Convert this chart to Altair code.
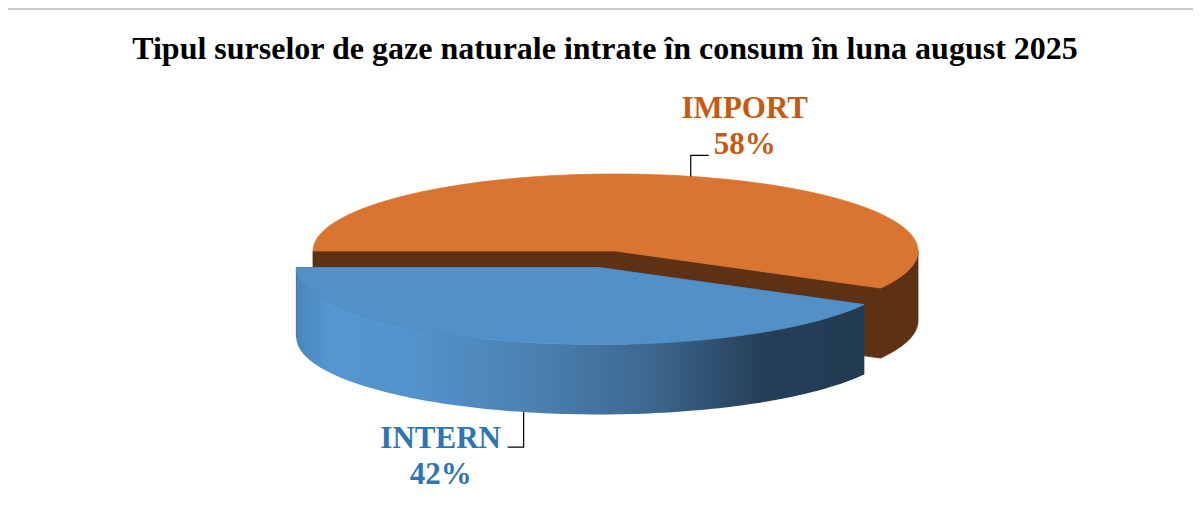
import json
import altair as alt
import pandas as pd

# ---------------- data ----------------
CATEGORIES = ["IMPORT", "INTERN"]
VALUES = [58, 42]
TITLE = "Tipul surselor de gaze naturale intrate în consum în luna august 2025"

# ---------------- style / layout ----------------
TOP_COLORS = {"IMPORT": "#D97530", "INTERN": "#5290C8"}
SIDE_COLORS = {"IMPORT": "#5E3114", "INTERN": "#2B4A68"}
LABEL_COLORS = {"IMPORT": "#C55A11", "INTERN": "#2E75B6"}
EXPLODED = {"INTERN": 0.221}
WALL_GRADIENT = {
    "INTERN": [
        ("#4A86BE", 0.0), ("#5597D0", 0.06), ("#5393CC", 0.2),
        ("#4B81B1", 0.42), ("#3D6890", 0.62), ("#263F58", 0.82), ("#223A52", 1.0),
    ]
}
FONT = "Liberation Serif"

W, H = 1185, 516          # plot area (page offset 8px)
CX, CY = 615.5, 251.0     # centre of the pie's top face (page px)
RX, RY = 302.5, 77.0      # ellipse radii of the tilted pie
DEPTH = 70.0              # thickness of the pie
N = 120                   # arc resolution

df = pd.DataFrame({"label": CATEGORIES, "value": VALUES, "order": list(range(len(CATEGORIES)))})

XS = alt.Scale(domain=[8, 8 + W], nice=False, zero=False)
YS = alt.Scale(domain=[8, 8 + H], nice=False, zero=False, reverse=True)

explode_expr = " : ".join(
    [f"datum.label == {json.dumps(k)} ? {v}" for k, v in EXPLODED.items()] + ["0"]
)

RAD = "*PI/180"


def geom(lab):
    return (
        alt.Chart(df)
        .transform_joinaggregate(total="sum(value)")
        .transform_window(cum="sum(value)", sort=[alt.SortField("order")], frame=[None, 0])
        .transform_calculate(a0="270 + 360*(datum.cum - datum.value)/datum.total")
        .transform_calculate(a1="270 + 360*datum.cum/datum.total")
        .transform_calculate(mid="(datum.a0 + datum.a1)/2")
        .transform_calculate(ex=explode_expr)
        .transform_calculate(ccx=f"{CX} + datum.ex*{RX}*sin(datum.mid{RAD})")
        .transform_calculate(ccy=f"{CY} - datum.ex*{RY}*cos(datum.mid{RAD})")
        .transform_filter(alt.datum.label == lab)
    )


def xy(order_field):
    return dict(
        x=alt.X("x:Q", scale=XS, axis=None),
        y=alt.Y("y:Q", scale=YS, axis=None),
        order=alt.Order(f"{order_field}:Q"),
    )


layers = []

# border (left and top edges of the frame)
layers.append(
    alt.Chart(pd.DataFrame({"b": [0]})).mark_rule(color="#C8C8C8", strokeWidth=2)
    .encode(x=alt.value(-1), y=alt.value(0), y2=alt.value(H))
)
layers.append(
    alt.Chart(pd.DataFrame({"b": [0]})).mark_rule(color="#C8C8C8", strokeWidth=2)
    .encode(x=alt.value(-1), x2=alt.value(W), y=alt.value(1))
)

for lab in CATEGORIES:
    # radial cut faces
    faces = (
        geom(lab)
        .transform_calculate(f="sequence(0, 2)")
        .transform_flatten(["f"])
        .transform_calculate(k="sequence(0, 4)")
        .transform_flatten(["k"])
        .transform_calculate(ang="datum.f == 0 ? datum.a0 : datum.a1")
        .transform_calculate(
            ex_=f"datum.ccx + {RX}*sin(datum.ang{RAD})",
            ey_=f"datum.ccy - {RY}*cos(datum.ang{RAD})",
        )
        .transform_calculate(
            x="(datum.k == 1 || datum.k == 2) ? datum.ex_ : datum.ccx",
            y=f"((datum.k == 1 || datum.k == 2) ? datum.ey_ : datum.ccy) + (datum.k >= 2 ? {DEPTH} : 0)",
        )
        .mark_line(filled=True, interpolate="linear-closed", color=SIDE_COLORS[lab],
                   stroke=SIDE_COLORS[lab], strokeWidth=0.8)
        .encode(detail="f:N", **xy("k"))
    )
    layers.append(faces)

    # outer wall (front half only): top arc forward, bottom arc backward
    if lab in WALL_GRADIENT:
        wall_color = alt.Gradient(
            gradient="linear",
            stops=[alt.GradientStop(color=c, offset=o) for c, o in WALL_GRADIENT[lab]],
            x1=0, x2=1, y1=0, y2=0,
        )
        wall_mark = dict(color=wall_color)
    else:
        wall_mark = dict(color=SIDE_COLORS[lab], stroke=SIDE_COLORS[lab], strokeWidth=0.8)
    wall = (
        geom(lab)
        .transform_calculate(wlo="max(datum.a0, 450)")
        .transform_calculate(whi="min(datum.a1, 630)")
        .transform_filter("datum.whi > datum.wlo")
        .transform_calculate(t=f"sequence(0, {2 * N + 2})")
        .transform_flatten(["t"])
        .transform_calculate(
            s=f"datum.t <= {N} ? datum.t : {2 * N + 1} - datum.t",
            bottom=f"datum.t > {N}",
        )
        .transform_calculate(ang=f"datum.wlo + (datum.whi - datum.wlo)*datum.s/{N}")
        .transform_calculate(
            x=f"datum.ccx + {RX}*sin(datum.ang{RAD})",
            y=f"datum.ccy - {RY}*cos(datum.ang{RAD}) + (datum.bottom ? {DEPTH} : 0)",
        )
        .mark_line(filled=True, interpolate="linear-closed", **wall_mark)
        .encode(**xy("t"))
    )
    layers.append(wall)

    # top face
    top = (
        geom(lab)
        .transform_calculate(t=f"sequence(0, {N + 2})")
        .transform_flatten(["t"])
        .transform_calculate(ang=f"datum.a0 + (datum.a1 - datum.a0)*(datum.t - 1)/{N}")
        .transform_calculate(
            x=f"datum.t == 0 ? datum.ccx : datum.ccx + {RX}*sin(datum.ang{RAD})",
            y=f"datum.t == 0 ? datum.ccy : datum.ccy - {RY}*cos(datum.ang{RAD})",
        )
        .mark_line(filled=True, interpolate="linear-closed", color=TOP_COLORS[lab],
                   stroke=TOP_COLORS[lab], strokeWidth=0.8)
        .encode(**xy("t"))
    )
    layers.append(top)

for lab in CATEGORIES:
    anchor = geom(lab).transform_calculate(
        ax=f"datum.ccx + {RX}*sin(datum.mid{RAD})",
        ay=f"datum.ccy - {RY}*cos(datum.mid{RAD}) + (cos(datum.mid{RAD}) < 0 ? {DEPTH} : 0)",
        up=f"cos(datum.mid{RAD}) > 0",
        right=f"sin(datum.mid{RAD}) > 0",
    )
    leader = (
        anchor
        .transform_calculate(k="sequence(0, 3)")
        .transform_flatten(["k"])
        .transform_calculate(
            vd="datum.up ? -21 : 35",
            hz="datum.right ? 18 : -16",
        )
        .transform_calculate(
            x="datum.k == 2 ? datum.ax + datum.hz : datum.ax",
            y="datum.k == 0 ? datum.ay : datum.ay + datum.vd",
        )
        .mark_line(color="#000000", strokeWidth=1.2)
        .encode(**xy("k"))
    )
    layers.append(leader)

    text = (
        anchor
        .transform_calculate(
            x="datum.ax + (datum.right ? 54 : -83)",
            y="datum.ay + (datum.up ? -58 : 36)",
            txt="datum.label + '\\n' + round(100*datum.value/datum.total) + '%'",
        )
        .mark_text(font=FONT, fontSize=31, fontWeight="bold", lineBreak="\n",
                   lineHeight=36, align="center", baseline="alphabetic",
                   color=LABEL_COLORS[lab])
        .encode(x=alt.X("x:Q", scale=XS, axis=None),
                y=alt.Y("y:Q", scale=YS, axis=None),
                text="txt:N")
    )
    layers.append(text)

title = (
    alt.Chart(pd.DataFrame({"t": [TITLE]}))
    .mark_text(font=FONT, fontSize=32, fontWeight="bold", align="center",
               baseline="alphabetic", color="#000000")
    .encode(x=alt.value(597), y=alt.value(51), text="t:N")
)
layers.append(title)

chart = (
    alt.layer(*layers)
    .properties(width=W, height=H, padding=0, autosize="none")
    .configure_view(stroke=None)
)

chart.save("out.html", embed_options={"renderer": "svg", "actions": False})
